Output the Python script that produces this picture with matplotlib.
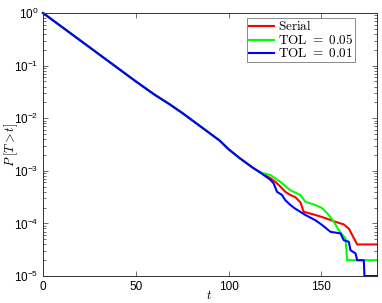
import numpy as np
import matplotlib
matplotlib.use("Agg")
import matplotlib.pyplot as plt
from matplotlib.ticker import LogLocator, NullFormatter

plt.rcParams["font.family"] = ["Liberation Sans", "DejaVu Sans"]
plt.rcParams["mathtext.fontset"] = "cm"

# survival curves, values read as log10 P[T > t]
t_common = [0, 10, 20, 30, 40, 50, 60, 68, 75, 85, 95, 100, 106, 113, 117]
logp_common = [0, -0.26, -0.52, -0.78, -1.04, -1.30, -1.55, -1.73, -1.90,
               -2.16, -2.42, -2.59, -2.76, -2.94, -3.03]

t_serial = [122.5, 125.2, 127.9, 130.6, 133.3, 135.9, 138.7, 140.5, 146.8,
            152.2, 157.6, 162.1, 164.8, 166.6, 169.3, 180]
logp_serial = [-3.14, -3.21, -3.30, -3.40, -3.46, -3.50, -3.60, -3.78, -3.84,
               -3.90, -3.97, -4.02, -4.10, -4.22, -4.40, -4.40]

t_tol05 = [122.5, 127.9, 133.3, 138.7, 141.4, 146.8, 150.4, 154.0, 156.7,
           159.4, 162.1, 163.0, 163.9, 180]
logp_tol05 = [-3.08, -3.21, -3.37, -3.46, -3.59, -3.65, -3.71, -3.84, -3.97,
              -4.13, -4.25, -4.28, -4.70, -4.70]

t_tol01 = [122.5, 124.3, 126.1, 128.8, 130.6, 133.3, 135.9, 141.4, 146.8,
           150.4, 154.9, 160.3, 162.1, 164.8, 165.7, 168.4, 169.3, 172.9,
           173.2, 180]
logp_tol01 = [-3.17, -3.24, -3.40, -3.46, -3.56, -3.65, -3.72, -3.84, -3.94,
              -4.03, -4.16, -4.19, -4.32, -4.35, -4.51, -4.57, -4.70, -4.70,
              -5.0, -5.0]

labels = [r"$\mathrm{Serial}$", r"$\mathrm{TOL}\ =\ 0.05$", r"$\mathrm{TOL}\ =\ 0.01$"]
colors = [(1, 0, 0), (0, 1, 0), (0, 0, 1)]

fig = plt.figure(figsize=(3.82, 3.03), dpi=100)
ax = fig.add_axes([0.1126, 0.0891, 0.8744, 0.868])

series = [(t_serial, logp_serial), (t_tol05, logp_tol05), (t_tol01, logp_tol01)]
for (tt, lp), lab, col in zip(series, labels, colors):
    t = np.array(t_common + tt)
    p = 10.0 ** np.array(logp_common + lp)
    ax.semilogy(t, p, color=col, linewidth=1.5, label=lab, clip_on=False)

ax.set_xlim(0, 180)
ax.set_ylim(1e-5, 1)
ax.set_xticks([0, 50, 100, 150])
ax.yaxis.set_major_locator(LogLocator(base=10, numticks=10))
ax.yaxis.set_minor_locator(LogLocator(base=10, subs=np.arange(2, 10), numticks=20))
ax.yaxis.set_minor_formatter(NullFormatter())

ax.tick_params(which="both", direction="in", top=True, right=True,
               labelsize=8.5, colors="#333333", labelcolor="black")
ax.tick_params(which="major", length=3.5, width=0.5)
ax.tick_params(which="minor", length=2, width=0.5)
for s in ax.spines.values():
    s.set_linewidth(0.7)
    s.set_color("#333333")

ax.set_xlabel(r"$t$", fontsize=9)
ax.xaxis.set_label_coords(0.497, -0.05)
ax.set_ylabel(r"$P\;[T > t]$", fontsize=9)
ax.yaxis.set_label_coords(-0.068, 0.5)

leg = ax.legend(loc="upper right", bbox_to_anchor=(0.934, 0.981), fontsize=9.5,
                fancybox=False, handlelength=1.9, handletextpad=0.35,
                labelspacing=0.0, borderpad=0.1, borderaxespad=0)
leg.get_frame().set_edgecolor("#555555")
leg.get_frame().set_linewidth(0.6)

fig.savefig("out.png", dpi=100)
plt.close(fig)
